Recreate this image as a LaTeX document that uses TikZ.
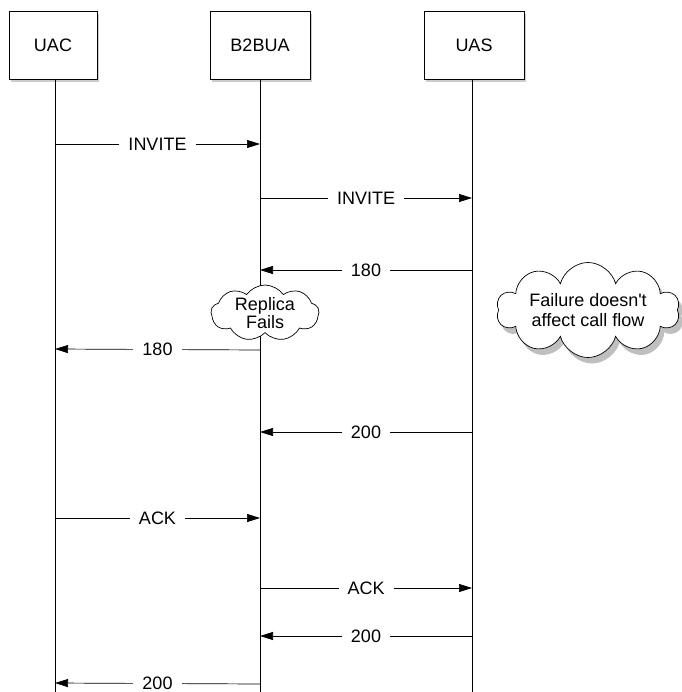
\documentclass[tikz,border=0pt]{standalone}
\usepackage{fontspec}
\setmainfont{Liberation Sans}
\usetikzlibrary{arrows.meta,shapes.symbols,shadows}

\begin{document}
\begin{tikzpicture}[x=1pt, y=-1pt, line width=0.7pt,
    >={Triangle[length=13pt,width=8pt]},
    font=\fontsize{18}{20}\selectfont,
    entity/.style={draw, fill=white, minimum width=88pt, minimum height=68pt,
        drop shadow={shadow xshift=2pt, shadow yshift=-3pt, opacity=0.4}},
    msg/.style={fill=white, inner xsep=9pt, inner ysep=0pt},
    bubble/.style={cloud, draw, fill=white, align=center, cloud ignores aspect,
        inner xsep=-6pt, inner ysep=-12pt}]
    \useasboundingbox (0,0) rectangle (681,692);
    % Entities
    \node[entity] (uac) at (53,45) {UAC};
    \node[entity, minimum width=100pt] (b2bua) at (260,45) {B2BUA};
    \node[entity, minimum width=100pt] (uas) at (474,45) {UAS};
    \coordinate (uac_end) at (55,692);
    \coordinate (b2bua_end) at (260,692);
    \coordinate (uas_end) at (472,692);
    \draw (uac.south -| uac_end) -- (uac_end);
    \draw (b2bua.south) -- (b2bua_end);
    \draw (uas.south -| uas_end) -- (uas_end);
    % Messages
    \coordinate (a1) at (55,144);  \coordinate (b1) at (260,144);
    \coordinate (b2) at (260,198); \coordinate (c2) at (472,198);
    \coordinate (c3) at (472,270); \coordinate (b3) at (260,270);
    \coordinate (b4) at (260,350); \coordinate (a4) at (55,349);
    \coordinate (c5) at (472,432); \coordinate (b5) at (260,432);
    \coordinate (a6) at (55,518);  \coordinate (b6) at (260,518);
    \coordinate (b7) at (260,588); \coordinate (c7) at (472,588);
    \coordinate (c8) at (472,636); \coordinate (b8) at (260,636);
    \coordinate (b9) at (260,684); \coordinate (a9) at (55,683);
    \draw[->] (a1) -- node[msg] {INVITE} (b1);
    \draw[->] (b2) -- node[msg] {INVITE} (c2);
    \draw[->] (c3) -- node[msg] {180} (b3);
    \draw[->] (b4) -- node[msg] {180} (a4);
    \draw[->] (c5) -- node[msg] {200} (b5);
    \draw[->] (a6) -- node[msg] {ACK} (b6);
    \draw[->] (b7) -- node[msg] {ACK} (c7);
    \draw[->] (c8) -- node[msg] {200} (b8);
    \draw[->] (b9) -- node[msg] {200} (a9);
    % Clouds
    \node[bubble, cloud puffs=9, cloud puff arc=110, minimum width=108pt, minimum height=56pt,
        font=\fontsize{18}{18}\selectfont] (replica) at (265,313) {Replica\\Fails};
    \node[bubble, cloud puffs=10, minimum width=183pt, minimum height=95pt,
        drop shadow={shadow xshift=4pt, shadow yshift=-6pt, opacity=0.5}] (failure) at (588,310) {Failure doesn\textquotesingle t\\affect call flow};
\end{tikzpicture}
\end{document}
